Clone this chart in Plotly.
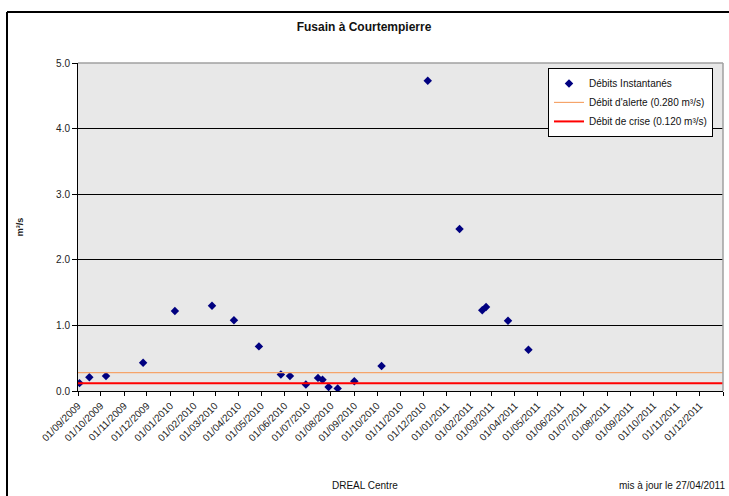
import plotly.graph_objects as go

# Measured instantaneous flows (m³/s)
dates = ["2009-09-03", "2009-09-16", "2009-10-08", "2009-11-26", "2010-01-07",
         "2010-02-25", "2010-03-26", "2010-04-28", "2010-05-27", "2010-06-08",
         "2010-06-29", "2010-07-15", "2010-07-21", "2010-07-29", "2010-08-10",
         "2010-09-01", "2010-10-07", "2010-12-07", "2011-01-18", "2011-02-17",
         "2011-02-22", "2011-03-23", "2011-04-19"]
debits = [0.12, 0.21, 0.23, 0.43, 1.22,
          1.30, 1.08, 0.68, 0.25, 0.23,
          0.10, 0.20, 0.17, 0.06, 0.04,
          0.15, 0.38, 4.73, 2.47, 1.23,
          1.28, 1.07, 0.63]

x_span = ["2009-09-01", "2012-01-01"]
alerte = [0.280, 0.280]
crise = [0.120, 0.120]

tick_vals = ["2009-09-01", "2009-10-01", "2009-11-01", "2009-12-01",
             "2010-01-01", "2010-02-01", "2010-03-01", "2010-04-01", "2010-05-01", "2010-06-01",
             "2010-07-01", "2010-08-01", "2010-09-01", "2010-10-01", "2010-11-01", "2010-12-01",
             "2011-01-01", "2011-02-01", "2011-03-01", "2011-04-01", "2011-05-01", "2011-06-01",
             "2011-07-01", "2011-08-01", "2011-09-01", "2011-10-01", "2011-11-01", "2011-12-01",
             "2012-01-01"]
tick_text = ["01/09/2009", "01/10/2009", "01/11/2009", "01/12/2009",
             "01/01/2010", "01/02/2010", "01/03/2010", "01/04/2010", "01/05/2010", "01/06/2010",
             "01/07/2010", "01/08/2010", "01/09/2010", "01/10/2010", "01/11/2010", "01/12/2010",
             "01/01/2011", "01/02/2011", "01/03/2011", "01/04/2011", "01/05/2011", "01/06/2011",
             "01/07/2011", "01/08/2011", "01/09/2011", "01/10/2011", "01/11/2011", "01/12/2011",
             ""]

FONT = "Liberation Sans, Arial, sans-serif"

fig = go.Figure()
fig.add_trace(go.Scatter(x=dates, y=debits, mode="markers", name="Débits Instantanés",
                         marker=dict(symbol="diamond", size=6.5, color="#000080")))
fig.add_trace(go.Scatter(x=x_span, y=alerte, mode="lines", name="Débit d'alerte (0.280 m³/s)",
                         line=dict(color="#F5A46A", width=1.2)))
fig.add_trace(go.Scatter(x=x_span, y=crise, mode="lines", name="Débit de crise (0.120 m³/s)",
                         line=dict(color="#FF0000", width=2)))

fig.update_layout(
    width=729, height=496, autosize=False,
    margin=dict(l=78, r=6, t=63, b=105, autoexpand=False),
    paper_bgcolor="white",
    plot_bgcolor="#E8E8E8",
    font=dict(family=FONT, size=10, color="#222"),
    showlegend=True,
    legend=dict(x=(713 - 78) / 645, y=0.985, xanchor="right", yanchor="top",
                bgcolor="white", bordercolor="black", borderwidth=1,
                font=dict(size=10, color="#111"), itemwidth=30, tracegroupgap=0),
    xaxis=dict(type="date", range=x_span, tickmode="array", tickvals=tick_vals,
               ticktext=tick_text, tickangle=-45, showgrid=False, showline=True,
               linecolor="black", linewidth=1, ticks="outside", ticklen=4,
               tickcolor="black", tickfont=dict(size=10), zeroline=False, automargin=False),
    yaxis=dict(range=[0, 5], dtick=1, tickformat=".1f", showgrid=True,
               gridcolor="black", gridwidth=1, showline=True, linecolor="black",
               linewidth=1, ticks="outside", ticklen=5, tickcolor="black",
               tickfont=dict(size=10), zeroline=False, automargin=False,
               title=dict(text="<b>m³/s</b>", font=dict(size=9), standoff=30)),
    title=dict(text="<b>Fusain à Courtempierre</b>", x=364 / 729, xanchor="center",
               y=1 - 27 / 496, yanchor="middle", font=dict(size=12, color="#111")),
)

# plot border (top/right) in grey
fig.add_shape(type="line", xref="paper", yref="paper", x0=0, x1=1, y0=1, y1=1,
              line=dict(color="#A0A0A0", width=1.5), layer="above")
fig.add_shape(type="line", xref="paper", yref="paper", x0=1, x1=1, y0=0, y1=1,
              line=dict(color="#A0A0A0", width=1.5), layer="above")
# outer chart frame (left and top)
fig.add_shape(type="line", xref="paper", yref="paper", x0=(7 - 78) / 645, x1=(729 - 78) / 645,
              y0=1 + (63 - 12) / 328, y1=1 + (63 - 12) / 328, line=dict(color="black", width=2))
fig.add_shape(type="line", xref="paper", yref="paper", x0=(7 - 78) / 645, x1=(7 - 78) / 645,
              y0=1 + (63 - 12) / 328, y1=-(500 - 391) / 328, line=dict(color="black", width=2))

fig.add_annotation(text="DREAL Centre", xref="paper", yref="paper",
                   x=(365 - 78) / 645, y=-(485 - 391) / 328, showarrow=False,
                   xanchor="center", yanchor="middle", font=dict(size=10, color="#111"))
fig.add_annotation(text="mis à jour le 27/04/2011", xref="paper", yref="paper",
                   x=(727 - 78) / 645, y=-(485 - 391) / 328, showarrow=False,
                   xanchor="right", yanchor="middle", font=dict(size=10, color="#111"))

fig.write_html("out.html",
               config={"responsive": False, "displayModeBar": False},
               post_script="document.body.style.margin='0';document.body.style.overflow='hidden';")
